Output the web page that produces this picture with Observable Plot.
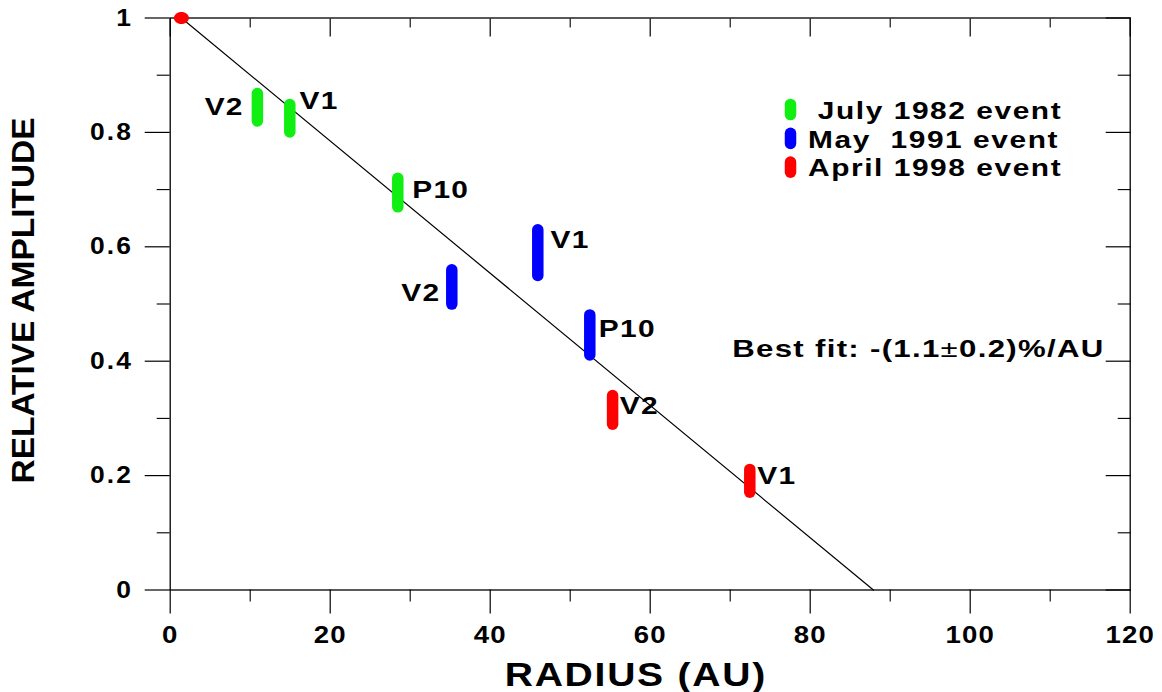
<!DOCTYPE html>
<html><head><meta charset="utf-8">
<script src="https://cdn.jsdelivr.net/npm/d3@7"></script>
<script src="https://cdn.jsdelivr.net/npm/@observablehq/plot@0.6"></script>
<style>
html,body{margin:0;padding:0;background:#fff;}
svg text{white-space:pre;}
</style></head><body>
<script>
// ---- data ----
const eventNames = ["July 1982", "May 1991", "April 1998"];
const eventColors = ["#11ee11", "#0000ff", "#ff0000"];
const legendText = [" July 1982 event", "May  1991 event", "April 1998 event"];

const probe    = ["V2", "V1", "P10", "V2", "V1", "P10", "V2", "V1"];
const barEvent = ["July 1982", "July 1982", "July 1982", "May 1991", "May 1991", "May 1991", "April 1998", "April 1998"];
const radius   = [10.9, 14.95, 28.45, 35.2, 45.95, 52.45, 55.3, 72.45];
const ampLow   = [0.819, 0.800, 0.669, 0.499, 0.549, 0.410, 0.289, 0.170];
const ampHigh  = [0.867, 0.848, 0.719, 0.559, 0.629, 0.480, 0.339, 0.210];

// probe label anchor positions (data units) and side
const labelX      = [9.2, 16.16, 30.25, 33.79, 47.54, 53.58, 56.2, 73.38];
const labelY      = [0.844, 0.854, 0.698, 0.519, 0.610, 0.456, 0.321, 0.199];
const labelAnchor = ["end", "start", "start", "end", "start", "start", "start", "start"];

// reference point and best-fit line
const refX = [1.4];
const refY = [1.0];
const fitX = [1.4, 87.9];
const fitY = [1.0, 0.0];
const fitText = "Best fit: -(1.1±0.2)%/AU";

// axes
const xMajor = [0, 20, 40, 60, 80, 100, 120];
const xMinor = [10, 30, 50, 70, 90, 110];
const yMajor = [0, 0.2, 0.4, 0.6, 0.8, 1];
const yMinor = [0.1, 0.3, 0.5, 0.7, 0.9];
const xTitle = "RADIUS (AU)";
const yTitle = "RELATIVE AMPLITUDE";

// ---- symbols ----
const capsule = {draw(ctx) {
  const w = 5.75, h = 5.1;
  ctx.moveTo(w, -h); ctx.lineTo(w, h);
  ctx.arc(0, h, w, 0, Math.PI);
  ctx.lineTo(-w, -h);
  ctx.arc(0, -h, w, Math.PI, 2 * Math.PI);
  ctx.closePath();
}};
const ellipse = {draw(ctx) {
  const rx = 7.5, ry = 6, k = 0.5523;
  ctx.moveTo(rx, 0);
  ctx.bezierCurveTo(rx, k * ry, k * rx, ry, 0, ry);
  ctx.bezierCurveTo(-k * rx, ry, -rx, k * ry, -rx, 0);
  ctx.bezierCurveTo(-rx, -k * ry, -k * rx, -ry, 0, -ry);
  ctx.bezierCurveTo(k * rx, -ry, rx, -k * ry, rx, 0);
  ctx.closePath();
}};

const idx = probe.map((_, i) => i);
const blank = () => "";

const legendMarks = legendText.flatMap((t, i) => [
  Plot.dot([0], {x: null, y: null, frameAnchor: "top-left", dx: 620.3, dy: 91.5 + i * 28.8,
    symbol: capsule, fill: eventColors[i], stroke: null}),
  Plot.text([t], {frameAnchor: "top-left", dx: 637.8, dy: 93.5 + i * 28.8, textAnchor: "start",
    lineAnchor: "middle", fontSize: 23, fill: "black"})
]);

const chart = Plot.plot({
  width: 1162,
  height: 692,
  marginLeft: 169.7,
  marginRight: 32.3,
  marginTop: 17.5,
  marginBottom: 102.5,
  x: {domain: [0, 120]},
  y: {domain: [0, 1]},
  color: {domain: eventNames, range: eventColors},
  style: {fontFamily: "'Liberation Sans', Arial, sans-serif", fontWeight: "bold", color: "black", background: "white", overflow: "visible"},
  marks: [
    Plot.axisX({anchor: "bottom", ticks: xMajor, tickSize: 24, tickPadding: 11.5, fontSize: 24, strokeWidth: 1.2, tickFormat: d => String(d), label: null}),
    Plot.axisX({anchor: "bottom", ticks: xMinor, tickSize: 12, strokeWidth: 1.1, tickFormat: blank, label: null}),
    Plot.axisX({anchor: "top", ticks: xMajor, tickSize: -18, strokeWidth: 1.2, tickFormat: blank, label: null}),
    Plot.axisX({anchor: "top", ticks: xMinor, tickSize: -9, strokeWidth: 1.1, tickFormat: blank, label: null}),
    Plot.axisY({anchor: "left", ticks: yMajor, tickSize: 25, tickPadding: 12, fontSize: 24, strokeWidth: 1.2, tickFormat: d => String(d), label: null}),
    Plot.axisY({anchor: "left", ticks: yMinor, tickSize: 13, strokeWidth: 1.1, tickFormat: blank, label: null}),
    Plot.axisY({anchor: "right", ticks: yMajor, tickSize: -25, strokeWidth: 1.2, tickFormat: blank, label: null}),
    Plot.axisY({anchor: "right", ticks: yMinor, tickSize: -13, strokeWidth: 1.1, tickFormat: blank, label: null}),
    Plot.frame({stroke: "black", strokeWidth: 1.3}),
    Plot.line(fitX.map((x, i) => i), {x: i => fitX[i], y: i => fitY[i], stroke: "black", strokeWidth: 1.2}),
    Plot.ruleX(idx, {x: i => radius[i], y1: i => ampLow[i], y2: i => ampHigh[i],
      stroke: i => barEvent[i], strokeWidth: 11.5, strokeLinecap: "round"}),
    Plot.dot(refX.map((x, i) => i), {x: i => refX[i], y: i => refY[i], symbol: ellipse, fill: eventColors[2], stroke: null}),
    Plot.text(idx, {filter: i => labelAnchor[i] === "start", x: i => labelX[i], y: i => labelY[i], text: i => probe[i],
      textAnchor: "start", fontSize: 23, fill: "black"}),
    Plot.text(idx, {filter: i => labelAnchor[i] === "end", x: i => labelX[i], y: i => labelY[i], text: i => probe[i],
      textAnchor: "end", fontSize: 23, fill: "black"}),
    ...legendMarks,
    Plot.text([fitText], {frameAnchor: "top-left", dx: 562, dy: 331.5, textAnchor: "start", lineAnchor: "middle", fontSize: 24, fill: "black"}),
    Plot.text([xTitle], {frameAnchor: "bottom", dx: -14.4, dy: 85.5, lineAnchor: "middle", fontSize: 34, fill: "black"}),
    Plot.text([yTitle], {frameAnchor: "left", dx: -145.8, dy: -3.5, rotate: -90, lineAnchor: "middle", fontSize: 31, fill: "black"})
  ]
});
document.body.append(chart);

// ---- text styling: horizontal stretch and letter spacing ----
function stretch(t, sx, ls) {
  const tr = t.getAttribute("transform");
  if (tr !== null) t.setAttribute("transform", tr + ` scale(${sx},1)`);
  else {
    const x = +t.getAttribute("x") || 0;
    t.removeAttribute("x");
    t.setAttribute("transform", `translate(${x},0) scale(${sx},1)`);
  }
  if (ls) t.style.letterSpacing = ls + "px";
}
chart.querySelectorAll('g[aria-label="x-axis tick label"] text').forEach(t => { t.style.fontSize = "24px"; stretch(t, 1.15, 1); });
chart.querySelectorAll('g[aria-label="y-axis tick label"] text').forEach(t => { t.style.fontSize = "24px"; stretch(t, 1.1, 2); });
chart.querySelectorAll("text").forEach(t => {
  const s = t.textContent;
  if (t.closest('g[aria-label$="tick label"]')) return;
  if (probe.includes(s)) stretch(t, 1.3, 1);
  else if (legendText.includes(s)) stretch(t, 1.3, 1.2);
  else if (s === xTitle) stretch(t, 1.15, 1.5);
  else if (s === yTitle) {
    t.setAttribute("text-anchor", "start");
    t.setAttribute("x", -183);
    t.setAttribute("textLength", 366);
    t.setAttribute("lengthAdjust", "spacingAndGlyphs");
  }
  else if (s === fitText) {
    stretch(t, 1.3, 1);
    const [a, b] = fitText.split("±");
    t.textContent = "";
    t.append(a);
    const ts = document.createElementNS("http://www.w3.org/2000/svg", "tspan");
    ts.setAttribute("font-weight", "normal");
    ts.textContent = "±";
    t.append(ts);
    t.append(b);
  }
});
</script></body></html>
